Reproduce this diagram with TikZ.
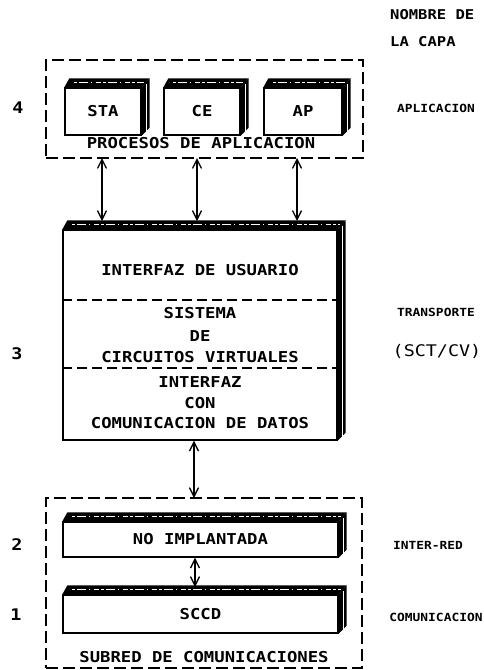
\documentclass[tikz,border=0pt]{standalone}
\usepackage{fontspec}
\newfontfamily\plotf[FakeStretch=1.15]{DejaVu Sans Mono}
\usetikzlibrary{arrows.meta,calc}
\tikzset{
  dashbox/.style={draw, line width=1.6pt, dash pattern=on 12pt off 5pt, inner sep=0pt},
  frontbox/.style={draw, line width=1.3pt, fill=white, inner sep=0pt, font=\plotf\bfseries\fontsize{15}{18}\selectfont},
  divider/.style={line width=1.1pt, dash pattern=on 10pt off 5pt},
  txt/.style={font=\plotf\bfseries\fontsize{15}{18}\selectfont, inner sep=0pt},
  num/.style={font=\plotf\bfseries\fontsize{16}{18}\selectfont, inner sep=0pt},
  rlab/.style={font=\plotf\bfseries\fontsize{11.2}{13}\selectfont, inner sep=0pt},
  hlab/.style={font=\plotf\bfseries\fontsize{13.5}{16}\selectfont, inner sep=0pt, anchor=west},
  link/.style={line width=1.3pt, {Straight Barb[length=9pt,width=9pt]}-{Straight Barb[length=9pt,width=9pt]}},
}
\newcommand{\facesof}[1]{%
  \fill[black] (#1.north west) -- ++(5,-9) -- ($(#1.north east)+(8,-9)$) -- (#1.north east) -- cycle;
  \draw[white, line width=0.9pt, dash pattern=on 3pt off 2pt on 9pt off 3pt on 1pt off 4pt on 5pt off 2pt]
     ($(#1.north west)+(10,-4.5)$) -- ($(#1.north east)+(2,-4.5)$);
  \fill[black] (#1.north east) -- ++(8,-9) -- ($(#1.south east)+(8,-8)$) -- (#1.south east) -- cycle;
  \draw[white, line width=0.8pt] ($(#1.north east)+(4.5,-3)$) -- ($(#1.south east)+(4.5,-4)$);
}
\begin{document}
\begin{tikzpicture}[x=1pt, y=-1pt]
\useasboundingbox (0,0) rectangle (484,670);

% header labels
\node[hlab] (hdr1) at (390,15) {NOMBRE DE};
\node[hlab] (hdr2) at (390,42) {LA CAPA};

% layer 4
\node[dashbox, minimum width=317pt, minimum height=98pt] (top) at (204.5,109) {};
\node[frontbox, minimum width=76pt, minimum height=47pt] (sta) at (103,111.5) {STA};
\node[frontbox, minimum width=76pt, minimum height=47pt] (ce) at (202,111.5) {CE};
\node[frontbox, minimum width=78pt, minimum height=47pt] (ap) at (303,111.5) {AP};
\facesof{sta}\facesof{ce}\facesof{ap}
\node[txt] (proc) at (201,143) {PROCESOS DE APLICACION};
\node[num] (n4) at (18,108) {4};
\node[rlab] (l4) at (436,108) {APLICACION};

% layer 3
\node[frontbox, minimum width=274pt, minimum height=210pt] (big) at (200,335) {};
\facesof{big}
\draw[divider] (big.west |- 0,300) coordinate (d1a) -- (big.east |- 0,300) coordinate (d1b);
\draw[divider] (big.west |- 0,368) coordinate (d2a) -- (big.east |- 0,368) coordinate (d2b);
\node[txt] (iu) at (200,270) {INTERFAZ DE USUARIO};
\node[txt] (s1) at (200,313) {SISTEMA};
\node[txt] (s2) at (200,336) {DE};
\node[txt] (s3) at (200,357) {CIRCUITOS VIRTUALES};
\node[txt] (c1) at (200,382) {INTERFAZ};
\node[txt] (c2) at (200,403) {CON};
\node[txt] (c3) at (200,423) {COMUNICACION DE DATOS};
\node[num] (n3) at (17,354) {3};
\node[rlab] (l3) at (436,312) {TRANSPORTE};
\node[font=\plotf\fontsize{16}{18}\selectfont, inner sep=0pt] (sct) at (437,351) {(SCT/CV)};

% arrows 4 <-> 3
\coordinate (a1t) at (102,158); \coordinate (a1b) at (102,221);
\coordinate (a2t) at (197,158); \coordinate (a2b) at (197,221);
\coordinate (a3t) at (297,158); \coordinate (a3b) at (297,221);
\draw[link] (a1t) -- (a1b);
\draw[link] (a2t) -- (a2b);
\draw[link] (a3t) -- (a3b);

% layers 2 and 1
\node[dashbox, minimum width=316pt, minimum height=170pt] (bot) at (204,583) {};
\node[frontbox, minimum width=275pt, minimum height=35pt] (noimp) at (200.5,539.5) {NO IMPLANTADA};
\node[frontbox, minimum width=275pt, minimum height=38pt] (sccd) at (200.5,614) {SCCD};
\facesof{noimp}\facesof{sccd}
\node[txt] (subred) at (204,657) {SUBRED DE COMUNICACIONES};
\node[num] (n2) at (17,545) {2};
\node[num] (n1) at (16,615) {1};
\node[rlab] (l2) at (428,545) {INTER-RED};
\node[rlab] (l1) at (436,617) {COMUNICACION};

% arrows 3 <-> 2, 2 <-> 1
\coordinate (b1b) at (194,498);
\draw[link] (big.south -| b1b) -- (b1b);
\coordinate (b2b) at (195,587);
\draw[link] (noimp.south -| b2b) -- (b2b);
\end{tikzpicture}
\end{document}
